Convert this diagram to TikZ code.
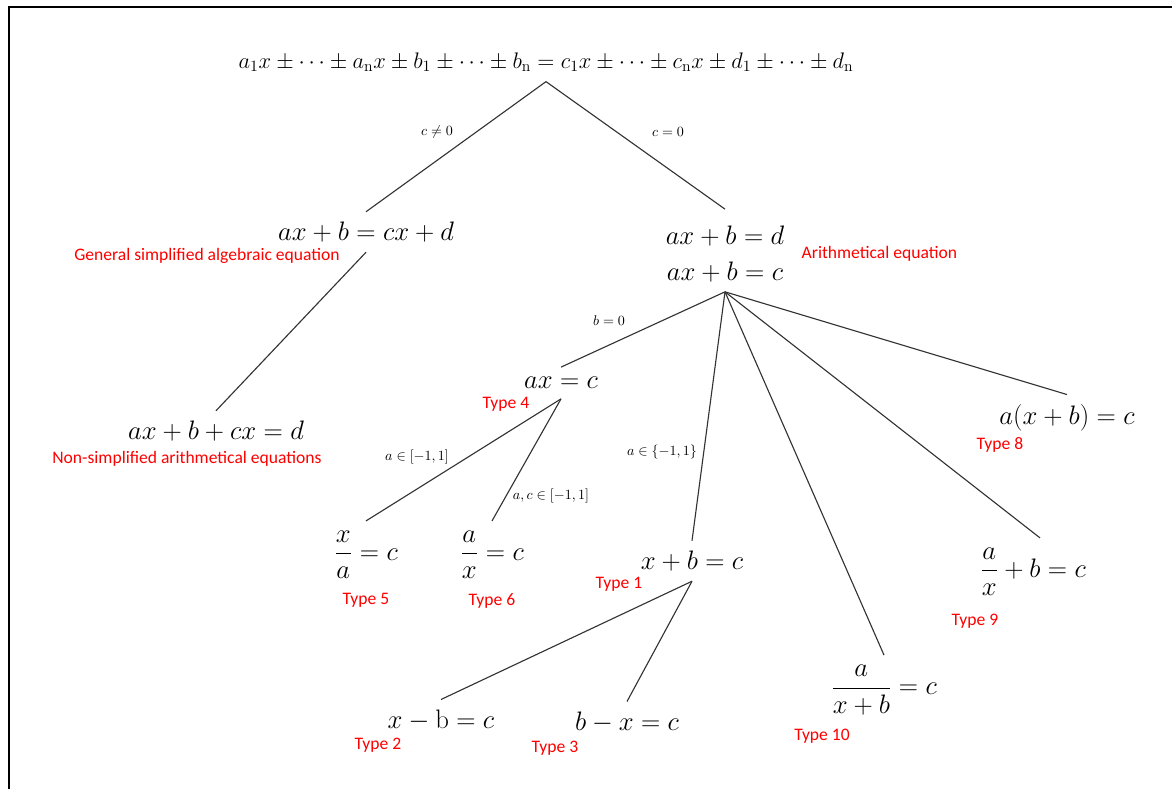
\RequirePackage{fix-cm}
\documentclass[tikz,border=0pt]{standalone}
\usepackage{amsmath}
\usepackage{amssymb}
\usepackage{fontspec}
\newfontfamily\labelfont{Carlito}
\usetikzlibrary{positioning}
\tikzset{
eqn/.style={inner xsep=2pt, inner ysep=7pt, font={\fontsize{19pt}{23}\selectfont}},
kind/.style={text=red, inner sep=1pt, font={\labelfont\fontsize{12.5pt}{15}\selectfont}},
cond/.style={inner sep=1pt, font={\fontsize{10pt}{12}\selectfont}},
branch/.style={draw=black!80, line width=0.8pt}
}

\begin{document}
\begin{tikzpicture}[x=0.025cm,y=-0.025cm]
\useasboundingbox (0,0) rectangle (1172,789);
\draw[line width=1.5pt] (9,789) -- (9,7) -- (1172,7);

% general form
\node[eqn, font={\fontsize{16pt}{19}\selectfont}] (root) at (546,62)
  {$a_1x \pm \cdots \pm a_{\mathrm{n}}x \pm b_1 \pm \cdots \pm b_{\mathrm{n}} = c_1x \pm \cdots \pm c_{\mathrm{n}}x \pm d_1 \pm \cdots \pm d_{\mathrm{n}}$};

% first split
\node[eqn] (simp) at (366,232) {$ax+b=cx+d$};
\node[kind] (simplbl) at (207,256) {General simplified algebraic equation};
\node[eqn, align=center] (arith) at (725,254) {$ax+b=d$\\[2pt]$ax+b=c$};
\node[kind, right=9pt of arith] (arithlbl) {Arithmetical equation};
\draw[branch] (root.south) -- (simp.north);
\draw[branch] (root.south) -- ([yshift=5pt]arith.north);
\node[cond] (cne) at (437,132) {$c\neq 0$};
\node[cond] (ceq) at (668,132) {$c=0$};

\node[eqn] (nonsimp) at (216,431) {$ax+b+cx=d$};
\node[kind] (nonsimplbl) at (187,459) {Non-simplified arithmetical equations};
\draw[branch] (simp.south) -- (nonsimp.north);

% arithmetical branches
\node[eqn] (t4) at (561,383) {$ax=c$};
\node[kind] (t4lbl) at (506,404) {Type 4};
\node[eqn] (t1) at (692,561) {$x+b=c$};
\node[kind] (t1lbl) at (619,584) {Type 1};
\node[eqn] (t10) at (884,690) {$\dfrac{a}{x+b}=c$};
\node[kind] (t10lbl) at (822,736) {Type 10};
\node[eqn] (t9) at (1033,572) {$\dfrac{a}{x}+b=c$};
\node[kind] (t9lbl) at (975,621) {Type 9};
\node[eqn] (t8) at (1067,418) {$a(x+b)=c$};
\node[kind] (t8lbl) at (1000,445) {Type 8};
\foreach \t in {t4,t1,t10,t8}
  \draw[branch] (arith.south) -- (\t.north);
\draw[branch] (arith.south) -- ([xshift=5pt]t9.north);
\node[cond] (bzero) at (609,321) {$b=0$};
\node[cond] (aunit) at (662,452) {$a\in\{-1,1\}$};

% divisions
\node[eqn] (t5) at (366,555) {$\dfrac{x}{a}=c$};
\node[kind, below=2pt of t5] (t5lbl) {Type 5};
\node[eqn] (t6) at (492,555) {$\dfrac{a}{x}=c$};
\node[kind, below=2pt of t6] (t6lbl) {Type 6};
\draw[branch] (t4.south) -- (t5.north);
\draw[branch] (t4.south) -- (t6.north);
\node[cond] (arange) at (417,457) {$a\in[-1,1]$};
\node[cond] (acrange) at (551,496) {$a,c\in[-1,1]$};

% subtractions
\node[eqn] (t2) at (441,720) {$x-\mathrm{b}=c$};
\node[kind] (t2lbl) at (378,745) {Type 2};
\node[eqn] (t3) at (627,722) {$b-x=c$};
\node[kind] (t3lbl) at (555,748) {Type 3};
\draw[branch] (t1.south) -- (t2.north);
\draw[branch] (t1.south) -- (t3.north);
\end{tikzpicture}
\end{document}
